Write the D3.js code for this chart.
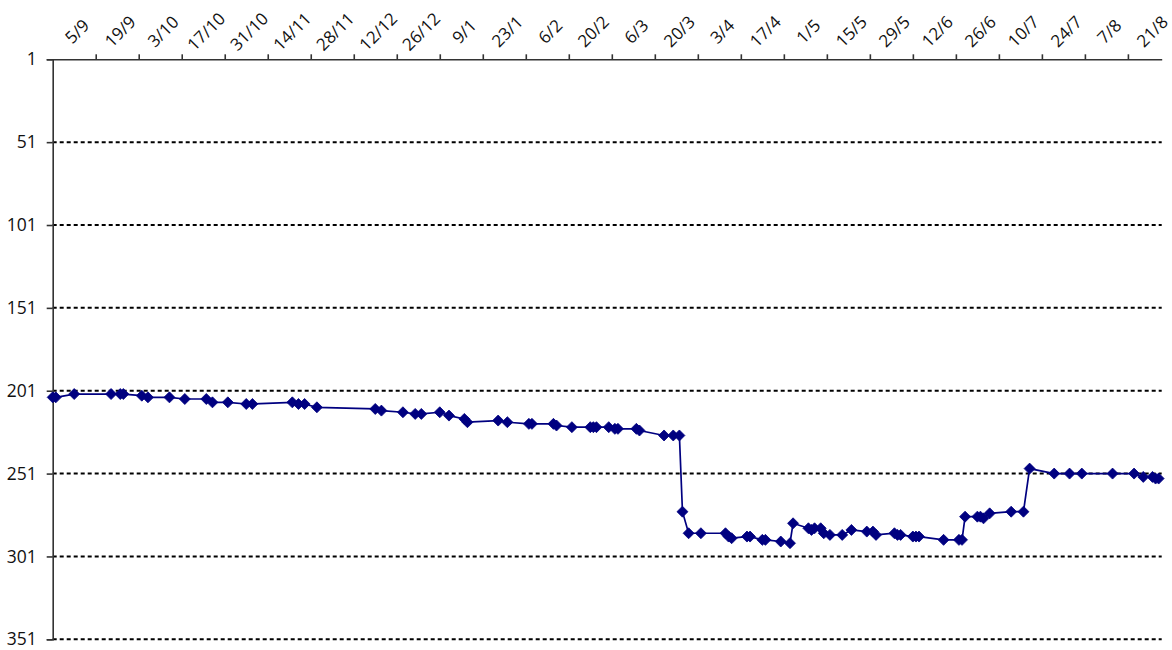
<!DOCTYPE html>
<html>
<head>
<meta charset="utf-8">
<script src="https://cdn.jsdelivr.net/npm/d3@7"></script>
<style>
  html, body { margin: 0; padding: 0; background: #fff; }
  svg text { font-family: "Open Sans", "Liberation Sans", sans-serif; fill: #111; }
</style>
</head>
<body>
<div id="chart"></div>
<script>
// date range shown on the axis
var axisStart = "2008-09-05";
var axisEnd = "2009-09-01";

// tick dates (every 14 days) and their labels
var tickDates = ["2008-09-05", "2008-09-19", "2008-10-03", "2008-10-17", "2008-10-31",
  "2008-11-14", "2008-11-28", "2008-12-12", "2008-12-26", "2009-01-09", "2009-01-23",
  "2009-02-06", "2009-02-20", "2009-03-06", "2009-03-20", "2009-04-03", "2009-04-17",
  "2009-05-01", "2009-05-15", "2009-05-29", "2009-06-12", "2009-06-26", "2009-07-10",
  "2009-07-24", "2009-08-07", "2009-08-21"];
var tickLabels = ["5/9", "19/9", "3/10", "17/10", "31/10", "14/11", "28/11", "12/12",
  "26/12", "9/1", "23/1", "6/2", "20/2", "6/3", "20/3", "3/4", "17/4", "1/5", "15/5",
  "29/5", "12/6", "26/6", "10/7", "24/7", "7/8", "21/8"];

var yTicks = [1, 51, 101, 151, 201, 251, 301, 351];

// observations
var dates = ["2008-09-05", "2008-09-06", "2008-09-12", "2008-09-24", "2008-09-27", "2008-09-28",
  "2008-10-04", "2008-10-06", "2008-10-13", "2008-10-18", "2008-10-25", "2008-10-27",
  "2008-11-01", "2008-11-07", "2008-11-09", "2008-11-22", "2008-11-24", "2008-11-26",
  "2008-11-30", "2008-12-19", "2008-12-21", "2008-12-28", "2009-01-01", "2009-01-03",
  "2009-01-09", "2009-01-12", "2009-01-17", "2009-01-18", "2009-01-28", "2009-01-31",
  "2009-02-07", "2009-02-08", "2009-02-15", "2009-02-16", "2009-02-21", "2009-02-27",
  "2009-02-28", "2009-03-01", "2009-03-05", "2009-03-07", "2009-03-08", "2009-03-14",
  "2009-03-15", "2009-03-23", "2009-03-26", "2009-03-28", "2009-03-29", "2009-03-31",
  "2009-04-04", "2009-04-12", "2009-04-13", "2009-04-14", "2009-04-19", "2009-04-20",
  "2009-04-24", "2009-04-25", "2009-04-30", "2009-05-03", "2009-05-04", "2009-05-09",
  "2009-05-10", "2009-05-11", "2009-05-13", "2009-05-14", "2009-05-16", "2009-05-20",
  "2009-05-23", "2009-05-28", "2009-05-30", "2009-05-31", "2009-06-06", "2009-06-07",
  "2009-06-08", "2009-06-12", "2009-06-13", "2009-06-14", "2009-06-22", "2009-06-27",
  "2009-06-28", "2009-06-29", "2009-07-03", "2009-07-04", "2009-07-05", "2009-07-07",
  "2009-07-14", "2009-07-18", "2009-07-20", "2009-07-28", "2009-08-02", "2009-08-06",
  "2009-08-16", "2009-08-23", "2009-08-26", "2009-08-29", "2009-08-30", "2009-08-31"];
var ranks = [205, 205, 203, 203, 203, 203,
  204, 205, 205, 206, 206, 208,
  208, 209, 209, 208, 209, 209,
  211, 212, 213, 214, 215, 215,
  214, 216, 218, 220, 219, 220,
  221, 221, 221, 222, 223, 223,
  223, 223, 223, 224, 224, 224,
  225, 228, 228, 228, 274, 287,
  287, 287, 289, 290, 289, 289,
  291, 291, 292, 293, 281, 284,
  285, 284, 284, 287, 288, 288,
  285, 286, 286, 288, 287, 288,
  288, 289, 289, 289, 291, 291,
  291, 277, 277, 277, 278, 275,
  274, 274, 248, 251, 251, 251,
  251, 251, 253, 253, 254, 254];

var svgWidth = 1172;
var svgHeight = 650;
var plot = { left: 52.7, right: 1161.7, top: 59.3, bottom: 639.3 };

var parse = d3.utcParse("%Y-%m-%d");

var data = dates.map(function (d, i) {
  return { date: parse(d), rank: ranks[i] };
});

var svg = d3.select("#chart")
  .append("svg")
  .attr("width", svgWidth)
  .attr("height", svgHeight);

var x = d3.scaleUtc()
  .domain([parse(axisStart), parse(axisEnd)])
  .range([plot.left, plot.right]);

var y = d3.scaleLinear()
  .domain([1, 351])
  .range([plot.top, plot.bottom]);

// dashed gridlines
svg.append("g")
  .selectAll("line")
  .data(yTicks.slice(1))
  .enter()
  .append("line")
  .attr("x1", plot.left)
  .attr("x2", plot.right)
  .attr("y1", d => y(d))
  .attr("y2", d => y(d))
  .attr("stroke", "#000")
  .attr("stroke-width", 2)
  .attr("stroke-dasharray", "4,3");

// left axis
var leftAxis = d3.axisLeft(y)
  .tickValues(yTicks)
  .tickSize(6)
  .tickPadding(10)
  .tickFormat(d3.format("d"));

var yAxisG = svg.append("g")
  .attr("transform", `translate(${plot.left},0)`)
  .call(leftAxis);
yAxisG.select(".domain").attr("stroke", "#333").attr("stroke-width", 1.6);
yAxisG.selectAll(".tick line").attr("stroke", "#333").attr("stroke-width", 1.6);
yAxisG.selectAll("text").style("font-size", "17.5px").attr("fill", "#111");

// top axis
var tickParsed = tickDates.map(parse);
var topAxis = d3.axisTop(x)
  .tickValues(tickParsed.slice(1))
  .tickSize(5)
  .tickSizeOuter(0)
  .tickFormat("");

var xAxisG = svg.append("g")
  .attr("transform", `translate(0,${plot.top})`)
  .call(topAxis);
xAxisG.select(".domain").attr("stroke", "#333").attr("stroke-width", 1.6);
xAxisG.selectAll(".tick line").attr("stroke", "#333").attr("stroke-width", 1.6);

// rotated date labels
svg.append("g")
  .selectAll("text")
  .data(tickParsed)
  .enter()
  .append("text")
  .attr("transform", (d, i) => `translate(${x(d) + 24.5},31.5) rotate(-45)`)
  .attr("text-anchor", "middle")
  .attr("dy", "0.35em")
  .style("font-size", "17px")
  .text((d, i) => tickLabels[i]);

// series line
var line = d3.line()
  .x(d => x(d.date))
  .y(d => y(d.rank));

svg.append("path")
  .datum(data)
  .attr("d", line)
  .attr("fill", "none")
  .attr("stroke", "#000080")
  .attr("stroke-width", 1.7);

// diamond markers
svg.append("g")
  .selectAll("path")
  .data(data)
  .enter()
  .append("path")
  .attr("transform", d => `translate(${x(d.date)},${y(d.rank)})`)
  .attr("d", "M0,-5.5L5.5,0L0,5.5L-5.5,0Z")
  .attr("fill", "#000080")
  .attr("stroke", "#000080")
  .attr("stroke-width", 0.8);
</script>
</body>
</html>
